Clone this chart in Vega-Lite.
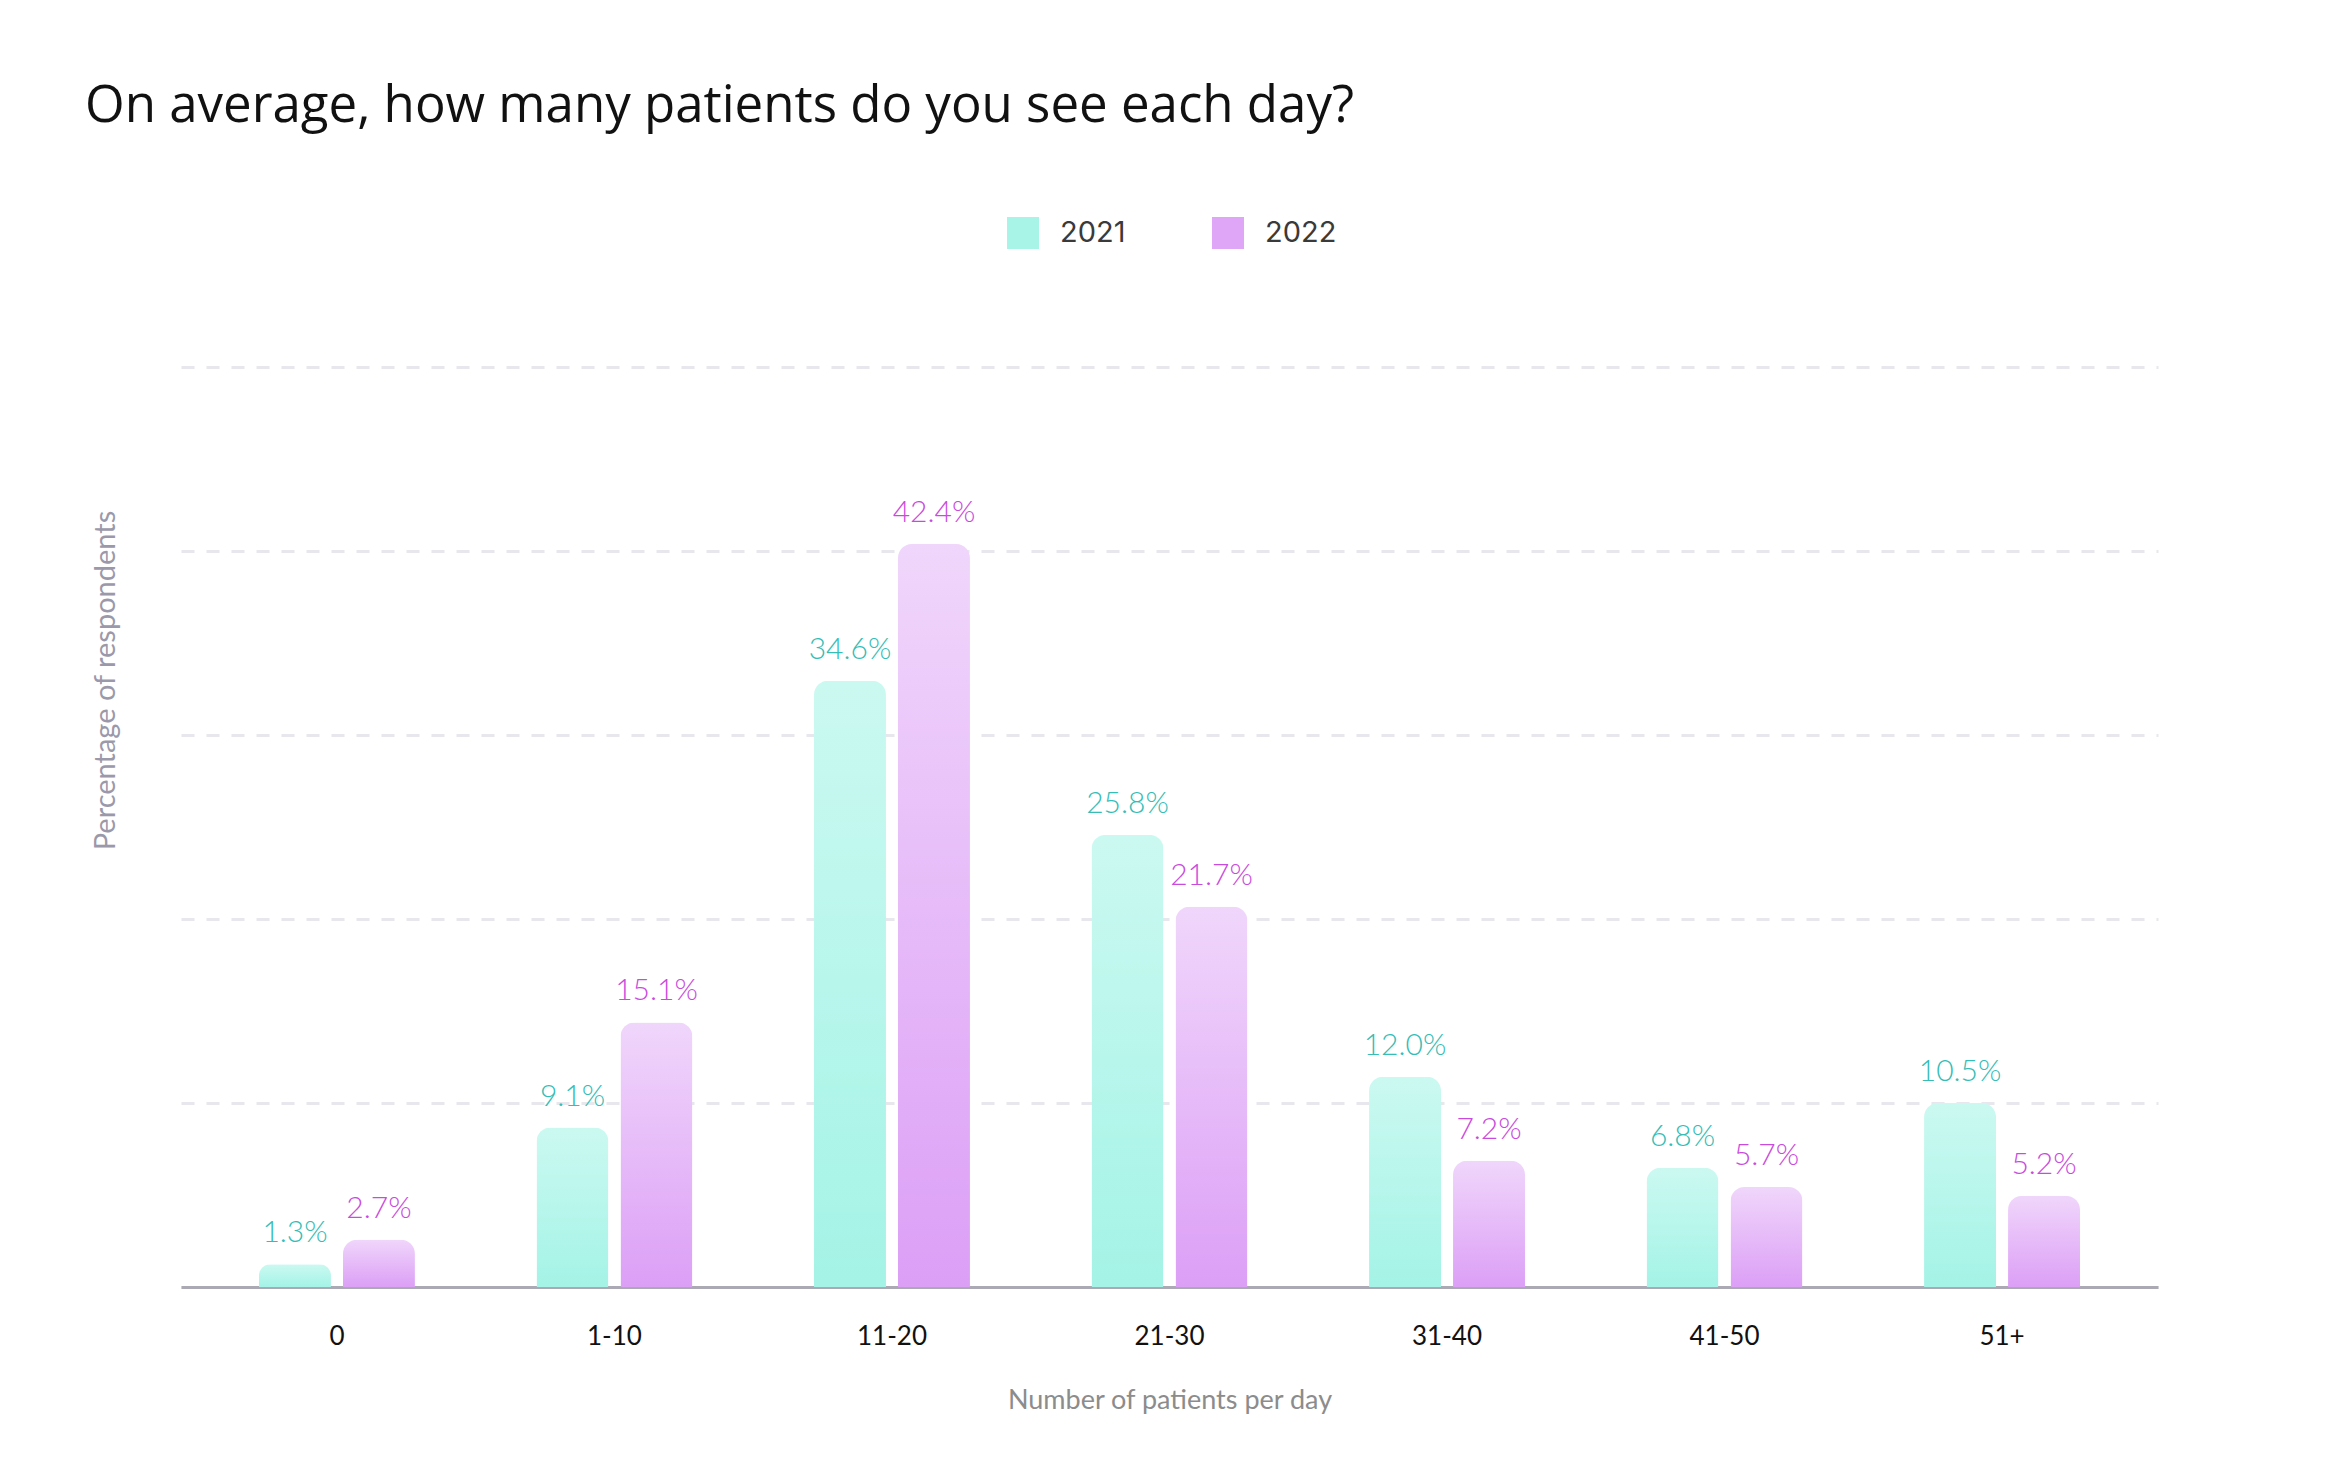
{
  "$schema": "https://vega.github.io/schema/vega-lite/v6.json",
  "autosize": {"type": "none"},
  "padding": {"left": 181, "top": 367, "right": 182, "bottom": 189},
  "width": 1977,
  "height": 920,
  "background": "white",
  "title": {
    "text": "On average, how many patients do you see each day?",
    "anchor": "start",
    "frame": "group",
    "dx": -96,
    "offset": 84,
    "font": "Open Sans",
    "fontSize": 51,
    "fontWeight": 400,
    "color": "#111111"
  },
  "config": {
    "view": {"stroke": null},
    "font": "Lato"
  },
  "data": {
    "values": [
      {"group": "0", "year": "2021", "pct": 0.013},
      {"group": "0", "year": "2022", "pct": 0.027},
      {"group": "1-10", "year": "2021", "pct": 0.091},
      {"group": "1-10", "year": "2022", "pct": 0.151},
      {"group": "11-20", "year": "2021", "pct": 0.346},
      {"group": "11-20", "year": "2022", "pct": 0.424},
      {"group": "21-30", "year": "2021", "pct": 0.258},
      {"group": "21-30", "year": "2022", "pct": 0.217},
      {"group": "31-40", "year": "2021", "pct": 0.120},
      {"group": "31-40", "year": "2022", "pct": 0.072},
      {"group": "41-50", "year": "2021", "pct": 0.068},
      {"group": "41-50", "year": "2022", "pct": 0.057},
      {"group": "51+", "year": "2021", "pct": 0.105},
      {"group": "51+", "year": "2022", "pct": 0.052}
    ]
  },
  "encoding": {
    "x": {
      "field": "group",
      "type": "nominal",
      "sort": ["0", "1-10", "11-20", "21-30", "31-40", "41-50", "51+"],
      "scale": {"paddingInner": 0.438, "paddingOuter": 0.281},
      "axis": {
        "title": "Number of patients per day",
        "titleFont": "Lato",
        "titleFontSize": 27,
        "titleFontWeight": 400,
        "titleColor": "#8c8c8c",
        "titlePadding": 38,
        "labelAngle": 0,
        "labelFont": "Lato",
        "labelFontSize": 26,
        "labelColor": "#111111",
        "labelPadding": 36,
        "ticks": false,
        "domainColor": "#aba9b3",
        "domainWidth": 3,
        "grid": false
      }
    },
    "xOffset": {
      "field": "year",
      "type": "nominal",
      "scale": {"paddingInner": 0.143, "paddingOuter": 0}
    },
    "y": {
      "field": "pct",
      "type": "quantitative",
      "scale": {"domain": [0, 0.525], "nice": false},
      "axis": {
        "title": "Percentage of respondents",
        "titleFont": "Lato",
        "titleFontSize": 29,
        "titleFontWeight": 400,
        "titleColor": "#9b99a9",
        "titleX": -76,
        "titleY": 313,
        "titleAngle": -90,
        "titleAlign": "center",
        "titleBaseline": "middle",
        "labels": false,
        "ticks": false,
        "domain": false,
        "grid": true,
        "gridColor": "#e8e7ed",
        "gridWidth": 3,
        "gridDash": [13, 12],
        "values": [0, 0.105, 0.21, 0.315, 0.42, 0.525]
      }
    }
  },
  "layer": [
    {
      "mark": {"type": "bar", "opacity": 0, "cornerRadiusTopLeft": 14, "cornerRadiusTopRight": 14},
      "encoding": {
        "color": {
          "field": "year",
          "type": "nominal",
          "scale": {"domain": ["2021", "2022"], "range": ["#a8f5e8", "#dfa5f7"]},
          "legend": {
            "orient": "none",
            "direction": "horizontal",
            "legendX": 826,
            "legendY": -150,
            "title": null,
            "symbolType": "square",
            "symbolSize": 1024,
            "symbolOpacity": 1,
            "symbolStrokeWidth": 0,
            "labelFont": "Inter",
            "labelFontSize": 29,
            "labelColor": "#3a3a3a",
            "labelOffset": 21,
            "columnPadding": 86
          }
        }
      }
    },
    {
      "mark": {"type": "bar", "cornerRadiusTopLeft": 14, "cornerRadiusTopRight": 14},
      "encoding": {
        "color": {
          "condition": {
            "test": "datum.year == '2021'",
            "value": {
              "gradient": "linear", "x1": 0, "y1": 0, "x2": 0, "y2": 1,
              "stops": [{"offset": 0, "color": "#cbf9f1"}, {"offset": 1, "color": "#a4f3e6"}]
            }
          },
          "value": {
            "gradient": "linear", "x1": 0, "y1": 0, "x2": 0, "y2": 1,
            "stops": [{"offset": 0, "color": "#f0d6fb"}, {"offset": 1, "color": "#dc9ff6"}]
          }
        }
      }
    },
    {
      "mark": {"type": "text", "baseline": "alphabetic", "dy": -22, "font": "Lato", "fontSize": 30, "fontWeight": 300},
      "encoding": {
        "text": {"field": "pct", "type": "quantitative", "format": ".1%"},
        "color": {
          "condition": {"test": "datum.year == '2021'", "value": "#35bdb6"},
          "value": "#c94bdd"
        }
      }
    }
  ]
}
